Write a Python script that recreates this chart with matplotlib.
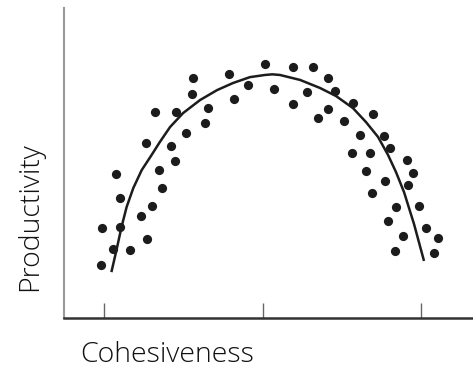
import numpy as np
import matplotlib.pyplot as plt

# scatter points (cohesiveness, productivity)
coh = [0.979, 0.984, 1.057, 1.099, 1.099, 1.074, 1.162, 1.230, 1.271, 1.299,
       1.366, 1.343, 1.448, 1.421, 1.263, 1.322, 1.450, 1.515, 1.555, 1.560,
       1.637, 1.654, 1.785, 1.816, 1.907, 2.012, 2.073, 2.191, 2.191, 2.319,
       2.281, 2.409, 2.456, 2.409, 2.350, 2.510, 2.571, 2.693, 2.615, 2.561,
       2.676, 2.767, 2.804, 2.653, 2.773, 2.691, 2.912, 2.946, 2.918, 2.842,
       2.984, 2.788, 3.030, 3.107, 2.883, 2.836, 3.078]
prod = [1.71, 2.89, 2.23, 2.95, 3.86, 4.64, 2.19, 3.29, 2.55, 3.62,
        4.18, 4.77, 5.05, 5.55, 5.65, 6.65, 6.65, 5.97, 7.22, 7.73,
        6.29, 6.78, 7.88, 7.06, 7.52, 8.20, 7.38, 8.10, 6.89, 8.10,
        7.28, 7.75, 7.32, 6.75, 6.44, 6.36, 6.93, 6.58, 5.89, 5.33,
        5.33, 5.88, 5.48, 4.74, 4.43, 4.03, 5.11, 4.67, 4.29, 3.58,
        3.62, 3.12, 2.91, 2.59, 2.65, 2.17, 2.11]

# trend curve
curve_x = [1.045, 1.077, 1.109, 1.141, 1.183, 1.236, 1.295, 1.351, 1.415, 1.497,
           1.604, 1.711, 1.812, 1.919, 2.014, 2.060, 2.108, 2.235, 2.361, 2.462,
           2.569, 2.651, 2.727, 2.790, 2.840, 2.891, 2.954, 3.017]
curve_y = [1.48, 2.19, 2.94, 3.58, 4.19, 4.77, 5.23, 5.68, 6.16, 6.61,
           7.03, 7.35, 7.58, 7.77, 7.84, 7.86, 7.84, 7.68, 7.42, 7.16,
           6.77, 6.32, 5.84, 5.26, 4.71, 4.06, 3.03, 1.84]

tick_pos = [1, 2, 3]

font = dict(family=['Open Sans', 'DejaVu Sans'], fontweight='light', fontsize=20.5, color='#111111')

fig = plt.figure(figsize=(4.73, 3.71), dpi=100)
ax = fig.add_axes([64 / 473, 53 / 371, 1 - 64 / 473, 310 / 371])

ax.scatter(coh, prod, s=44, color='#1c1c1c', zorder=3, linewidths=0)
ax.plot(curve_x, curve_y, color='#1c1c1c', linewidth=1.8, zorder=2,
        solid_capstyle='butt')

ax.set_xlim(0.746, 3.326)
ax.set_ylim(0, 10)

for side in ['top', 'right']:
    ax.spines[side].set_visible(False)
ax.spines['left'].set_color('#9a9a9a')
ax.spines['left'].set_linewidth(1.5)
ax.spines['bottom'].set_color('#333333')
ax.spines['bottom'].set_linewidth(1.8)

ax.set_xticks(tick_pos)
ax.set_xticklabels([])
ax.tick_params(axis='x', direction='in', length=11, width=1, color='#666666')
ax.set_yticks([])

fig.text(167 / 473, 1 - 355 / 371, 'Cohesiveness', ha='center', va='center', **font)
fig.text(30 / 473, 1 - 217 / 371, 'Productivity', ha='center', va='center',
         rotation=90, **font)

fig.savefig('out.png', dpi=100)
